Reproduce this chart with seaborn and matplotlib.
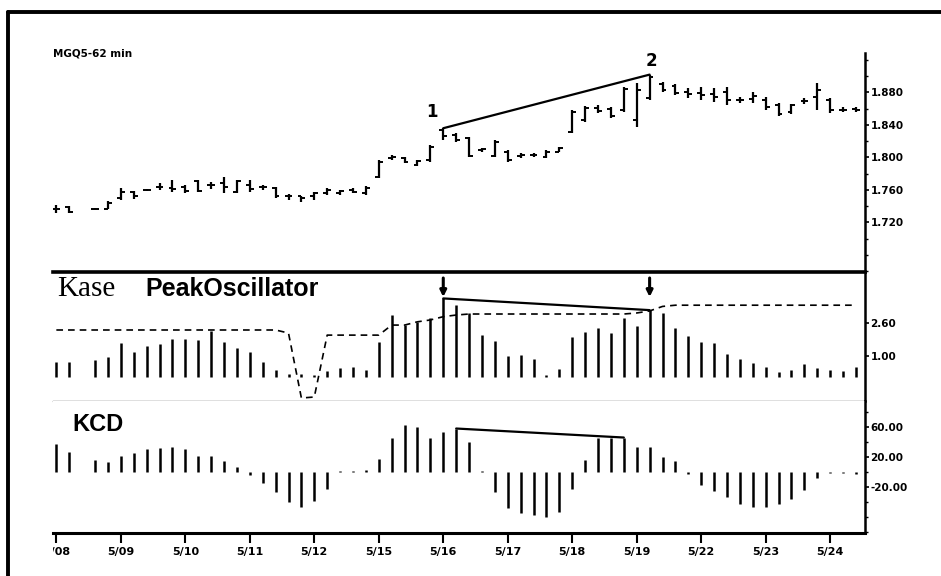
import numpy as np
import pandas as pd
import seaborn as sns
import matplotlib.pyplot as plt
from matplotlib.lines import Line2D
from matplotlib.ticker import MultipleLocator, FormatStrFormatter
from matplotlib.transforms import Bbox, TransformedBbox

nan = np.nan

# MGQ5 62 min bars, 5 per session (3rd bar of 5/08 missing)
high = [1.742, 1.740, nan, 1.738, 1.747, 1.763, 1.759, 1.761, 1.769, 1.772,
        1.766, 1.772, 1.770, 1.776, 1.772, 1.772, 1.766, 1.764, 1.755, 1.753,
        1.758, 1.763, 1.760, 1.763, 1.765, 1.797, 1.803, 1.801, 1.797, 1.815,
        1.836, 1.830, 1.825, 1.812, 1.822, 1.809, 1.806, 1.806, 1.809, 1.813,
        1.859, 1.863, 1.865, 1.862, 1.887, 1.892, 1.902, 1.893, 1.891, 1.886,
        1.887, 1.886, 1.887, 1.874, 1.881, 1.874, 1.867, 1.866, 1.873, 1.892,
        1.873, 1.862, 1.862]
low = [1.732, 1.732, nan, 1.736, 1.736, 1.748, 1.749, 1.759, 1.760, 1.758,
       1.756, 1.758, 1.761, 1.756, 1.756, 1.758, 1.760, 1.750, 1.748, 1.745,
       1.748, 1.754, 1.754, 1.756, 1.754, 1.775, 1.797, 1.793, 1.790, 1.795,
       1.822, 1.819, 1.801, 1.807, 1.801, 1.795, 1.799, 1.801, 1.799, 1.807,
       1.830, 1.844, 1.855, 1.849, 1.856, 1.838, 1.871, 1.881, 1.877, 1.873,
       1.871, 1.868, 1.865, 1.867, 1.867, 1.858, 1.851, 1.854, 1.866, 1.858,
       1.855, 1.856, 1.856]
opn = [1.737, 1.739, nan, 1.737, 1.737, 1.750, 1.757, 1.760, 1.764, 1.763,
       1.764, 1.771, 1.766, 1.769, 1.758, 1.766, 1.764, 1.763, 1.752, 1.752,
       1.752, 1.756, 1.756, 1.760, 1.756, 1.776, 1.799, 1.799, 1.791, 1.797,
       1.834, 1.828, 1.824, 1.809, 1.802, 1.807, 1.802, 1.803, 1.801, 1.807,
       1.831, 1.846, 1.861, 1.860, 1.859, 1.846, 1.873, 1.891, 1.888, 1.881,
       1.879, 1.878, 1.881, 1.871, 1.872, 1.871, 1.865, 1.856, 1.870, 1.875,
       1.871, 1.858, 1.860]
close = [1.737, 1.733, nan, 1.737, 1.744, 1.758, 1.752, 1.760, 1.764, 1.761,
         1.759, 1.759, 1.766, 1.764, 1.771, 1.761, 1.764, 1.752, 1.752, 1.750,
         1.756, 1.760, 1.759, 1.758, 1.762, 1.795, 1.801, 1.795, 1.796, 1.813,
         1.827, 1.822, 1.802, 1.811, 1.819, 1.797, 1.803, 1.803, 1.807, 1.812,
         1.856, 1.861, 1.857, 1.851, 1.884, 1.883, 1.899, 1.883, 1.879, 1.878,
         1.877, 1.874, 1.871, 1.871, 1.876, 1.862, 1.854, 1.864, 1.870, 1.883,
         1.858, 1.858, 1.858]

# Kase PeakOscillator histogram and its dashed peak-out line
peak_osc = [0.72, 0.72, nan, 0.80, 0.97, 1.62, 1.21, 1.50, 1.57, 1.83,
            1.83, 1.78, 2.23, 1.70, 1.38, 1.18, 0.72, 0.32, 0.10, 0.12,
            0.08, 0.27, 0.43, 0.48, 0.32, 1.67, 3.00, 2.51, 2.67, 2.84,
            3.81, 3.49, 3.08, 2.02, 1.73, 1.01, 1.05, 0.84, 0.06, 0.37,
            1.94, 2.19, 2.38, 2.14, 2.84, 2.46, 3.24, 3.08, 2.35, 1.99,
            1.70, 1.62, 1.08, 0.84, 0.64, 0.48, 0.23, 0.32, 0.60, 0.40,
            0.32, 0.27, 0.48]
peak_out = [2.27, 2.27, 2.27, 2.27, 2.27, 2.27, 2.27, 2.27, 2.27, 2.27,
            2.27, 2.27, 2.27, 2.27, 2.27, 2.27, 2.27, 2.27, 2.12, -1.05,
            -1.00, 2.02, 2.02, 2.02, 2.02, 2.02, 2.51, 2.51, 2.67, 2.76,
            2.92, 3.00, 3.05, 3.05, 3.05, 3.05, 3.05, 3.05, 3.05, 3.05,
            3.05, 3.05, 3.05, 3.05, 3.05, 3.10, 3.20, 3.42, 3.48, 3.48,
            3.48, 3.48, 3.48, 3.48, 3.48, 3.48, 3.48, 3.48, 3.48, 3.48,
            3.48, 3.48, 3.48]

# KCD histogram
kcd = [38, 27, nan, 16, 14, 22, 26, 31, 32, 33,
       31, 22, 22, 15, 7, -4, -15, -26, -40, -46,
       -39, -22, 2, 2, 3, 17, 46, 63, 60, 46,
       53, 58, 40, 2, -26, -48, -55, -57, -60, -53,
       -23, 16, 46, 46, 46, 34, 33, 20, 15, -2,
       -17, -25, -33, -42, -47, -46, -42, -36, -24, -8,
       -1, -1, -2]

day_labels = ["5/08", "5/09", "5/10", "5/11", "5/12", "5/15", "5/16",
              "5/17", "5/18", "5/19", "5/22", "5/23", "5/24"]
bars_per_day = 5

price_ticks = [1.72, 1.76, 1.80, 1.84, 1.88]
osc_ticks = [1.00, 2.60]
kcd_ticks = [-20, 20, 60]

# bars joined by the divergence lines
price_div = [30, 46]
osc_div = [30, 46]
kcd_div = [31, 44]

n = len(kcd)
df = pd.DataFrame({"bar": np.arange(n), "high": high, "low": low, "open": opn,
                   "close": close, "peak_osc": peak_osc, "peak_out": peak_out,
                   "kcd": kcd})

sns.set_style("white", {"axes.edgecolor": "black", "xtick.color": "black",
                        "ytick.color": "black", "text.color": "black",
                        "axes.labelcolor": "black"})
plt.rcParams["font.family"] = ["DejaVu Sans"]
plt.rcParams["font.weight"] = "bold"
plt.rcParams["text.color"] = "black"

W, H = 941, 576
fig = plt.figure(figsize=(W / 100, H / 100), dpi=100)


def px_box(x0, y0, x1, y1):
    return [x0 / W, 1 - y1 / H, (x1 - x0) / W, (y1 - y0) / H]


ax_p = fig.add_axes(px_box(53, 53, 865, 272))
ax_o = fig.add_axes(px_box(53, 272, 865, 401), sharex=ax_p)
ax_k = fig.add_axes(px_box(53, 401, 865, 533), sharex=ax_p)

# price bars: high-low line, open tick left, close tick right
tw = 0.3
ax_p.vlines(df["bar"], df["low"], df["high"], color="black", lw=1.6)
ax_p.hlines(df["open"], df["bar"] - tw, df["bar"], color="black", lw=1.4)
ax_p.hlines(df["close"], df["bar"], df["bar"] + tw, color="black", lw=1.4)
sns.lineplot(x=price_div, y=[high[i] for i in price_div], ax=ax_p,
             color="black", lw=1.6)
for label, i, off in zip(["1", "2"], price_div, [(-11, 16), (2, 14)]):
    ax_p.annotate(label, xy=(i, high[i]), xytext=off, textcoords="offset pixels",
                  ha="center", va="center", fontsize=12, color="black",
                  annotation_clip=False)

# peak oscillator
ax_o.vlines(df["bar"], 0, df["peak_osc"], color="black", lw=1.8)
sns.lineplot(data=df, x="bar", y="peak_out", ax=ax_o, color="black", lw=1.2,
             linestyle=(0, (4, 3)))
sns.lineplot(x=osc_div, y=[peak_osc[i] for i in osc_div], ax=ax_o,
             color="black", lw=1.6)
for i in osc_div:
    ax_o.annotate("", xy=(i, 3.88), xytext=(0, 19), textcoords="offset pixels",
                  arrowprops=dict(arrowstyle="-|>", color="black", lw=2.2,
                                  mutation_scale=9, shrinkA=0, shrinkB=0))

# KCD
ax_k.vlines(df["bar"], 0, df["kcd"], color="black", lw=1.8)
sns.lineplot(x=kcd_div, y=[kcd[i] for i in kcd_div], ax=ax_k,
             color="black", lw=1.6)

ax_p.set_xlim(-0.26, 62.7)
ax_p.set_ylim(1.659, 1.9286)
ax_o.set_ylim(-1.195, 5.10)
ax_k.set_ylim(-81.3, 94.7)

for ax in (ax_p, ax_o, ax_k):
    ax.set_xlabel("")
    ax.set_ylabel("")
    ax.spines["left"].set_visible(False)
    ax.spines["right"].set_linewidth(1.8)
    ax.yaxis.tick_right()
    ax.tick_params(axis="y", which="major", right=True, left=False, length=3,
                   width=1.2, pad=1, labelsize=7.5, labelcolor="black")
    ax.tick_params(axis="y", which="minor", right=True, left=False, length=2,
                   width=1)

ax_p.spines["top"].set_visible(False)
ax_p.spines["bottom"].set_visible(False)
ax_o.spines["top"].set_linewidth(2.6)
ax_o.spines["bottom"].set_linewidth(0.9)
ax_k.spines["top"].set_visible(False)
ax_k.spines["bottom"].set_linewidth(2.2)

ax_p.set_yticks(price_ticks)
ax_p.yaxis.set_major_formatter(FormatStrFormatter("%.3f"))
ax_p.yaxis.set_minor_locator(MultipleLocator(0.02))
ax_o.set_yticks(osc_ticks)
ax_o.yaxis.set_major_formatter(FormatStrFormatter("%.2f"))
ax_k.set_yticks(kcd_ticks)
ax_k.yaxis.set_major_formatter(FormatStrFormatter("%.2f"))
ax_k.yaxis.set_minor_locator(MultipleLocator(20))

ax_k.set_xticks(df["bar"][::bars_per_day], day_labels)
ax_k.tick_params(axis="x", bottom=True, length=7, width=1.5, pad=3,
                 labelsize=8, labelcolor="black")
for ax in (ax_p, ax_o):
    ax.tick_params(axis="x", bottom=False, labelbottom=False)

# first date label is cut by the panel edge in the original
clip = TransformedBbox(Bbox([[53 / W, 0], [1, 1]]), fig.transFigure)
first = ax_k.xaxis.get_major_ticks()[0].label1
first.set_clip_box(clip)
first.set_clip_on(True)

# frame of the scanned page
fig.add_artist(Line2D([8 / W, 8 / W], [0, 1 - 12 / H], color="black", lw=2.8))
fig.add_artist(Line2D([8 / W, 1], [1 - 12 / H, 1 - 12 / H], color="black", lw=2.8))

fig.text(53 / W, 1 - 57 / H, "MGQ5-62 min", fontsize=7.5, va="baseline",
         color="black")
fig.text(57 / W, 1 - 296 / H, "Kase", family="Liberation Serif",
         weight="normal", fontsize=21, va="baseline", color="black")
fig.text(145 / W, 1 - 296 / H, "PeakOscillator", family="Liberation Sans",
         fontsize=18, va="baseline", color="black")
fig.text(72 / W, 1 - 431 / H, "KCD", family="Liberation Sans", fontsize=17,
         va="baseline", color="black")

fig.savefig("out.png", dpi=100)
